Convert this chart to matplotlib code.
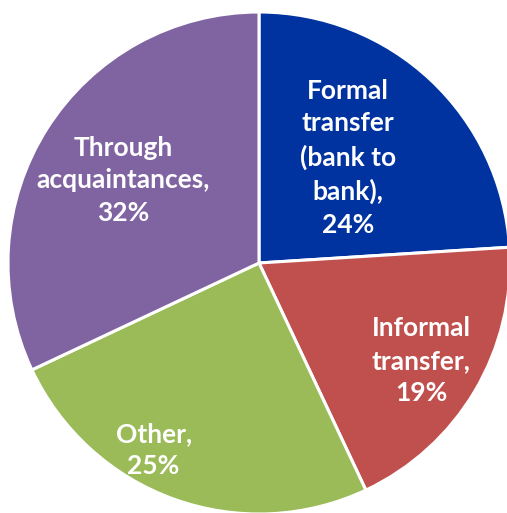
import matplotlib
matplotlib.use("Agg")
import matplotlib.pyplot as plt

# Share of transfers by channel
labels = ["Formal\ntransfer\n(bank to\nbank),\n24%",
          "Informal\ntransfer,\n19%",
          "Other,\n25%",
          "Through\nacquaintances,\n32%"]
shares = [24, 19, 25, 32]
colors = ["#0033A0", "#C0504D", "#9BBB59", "#8064A2"]

# label anchor points inside each wedge (pie radius = 1)
label_xy = [(0.355, 0.42), (0.645, -0.39), (-0.42, -0.745), (-0.54, 0.33)]

fig = plt.figure(figsize=(5.07, 5.13), dpi=100)
ax = fig.add_axes([0, 0, 1, 1])

ax.pie(shares, colors=colors, startangle=90, counterclock=False,
       radius=1.0, wedgeprops=dict(edgecolor="white", linewidth=2.2))

for text, (x, y) in zip(labels, label_xy):
    ax.text(x, y, text, ha="center", va="center", color="white",
            fontsize=19, fontweight="bold", family="Lato",
            linespacing=1.43)

# keep 251 px per unit in both directions, pie centre at (259, 263) px
scale = 251.0
ax.set_xlim(-259 / scale, (507 - 259) / scale)
ax.set_ylim(-(513 - 263) / scale, 263 / scale)
ax.set_aspect("equal")
ax.axis("off")

fig.savefig("out.png", dpi=100)
